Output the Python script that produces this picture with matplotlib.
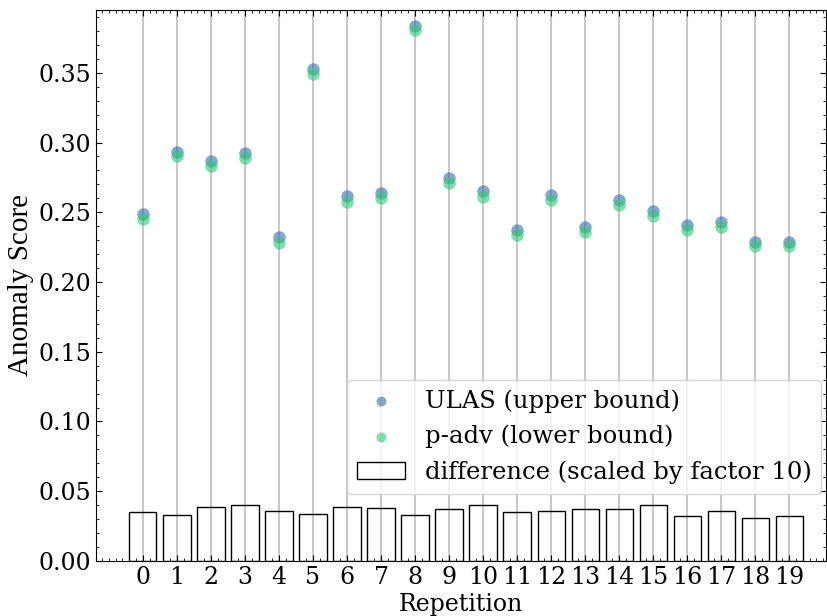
import numpy as np
import matplotlib

matplotlib.use("Agg")
import matplotlib.pyplot as plt
from matplotlib.ticker import AutoMinorLocator

# Anomaly scores per repetition
repetitions = list(range(20))
ulas_upper = [0.2486, 0.2935, 0.2868, 0.2928, 0.2319, 0.3527, 0.2613, 0.2641, 0.3837, 0.2749,
              0.2651, 0.2372, 0.2622, 0.2393, 0.2586, 0.2510, 0.2407, 0.2432, 0.2288, 0.2288]
padv_lower = [0.2451, 0.2902, 0.2829, 0.2888, 0.2283, 0.3493, 0.2574, 0.2603, 0.3804, 0.2712,
              0.2611, 0.2337, 0.2586, 0.2356, 0.2549, 0.2470, 0.2375, 0.2396, 0.2257, 0.2256]
SCALE = 10

plt.rcParams["font.family"] = "DejaVu Serif"
plt.rcParams["font.size"] = 17

x = np.array(repetitions)
upper = np.array(ulas_upper)
lower = np.array(padv_lower)
diff = (upper - lower) * SCALE

fig = plt.figure(figsize=(8.27, 6.16), dpi=100)
ax = fig.add_axes([0.116, 0.0893, 0.8828, 0.8945])

ax.grid(axis="x", color="#c8c8c8", linewidth=1.5, zorder=0)
ax.set_axisbelow(True)

ax.scatter(x, upper, s=80, color="#2f6fb0", alpha=0.6, linewidths=0,
           label="ULAS (upper bound)", zorder=3)
ax.scatter(x, lower, s=80, color="#2ecc71", alpha=0.6, linewidths=0,
           label="p-adv (lower bound)", zorder=3)
ax.bar(x, diff, width=0.8, facecolor="none", edgecolor="black", linewidth=1,
       label=f"difference (scaled by factor {SCALE})", zorder=2)

ax.set_xlim(-1.38, 20.08)
ax.set_ylim(0, 0.395)
ax.set_xticks(x)
ax.set_xticklabels([str(r) for r in repetitions], fontsize=17)
yt = np.arange(0, 0.36, 0.05)
ax.set_yticks(yt)
ax.set_yticklabels([f"{v:.2f}" for v in yt], fontsize=17)
ax.xaxis.set_minor_locator(AutoMinorLocator(5))
ax.yaxis.set_minor_locator(AutoMinorLocator(5))
ax.tick_params(which="both", direction="in", top=True, right=True)
ax.tick_params(which="major", length=4)
ax.tick_params(which="minor", length=2)

ax.set_xlabel("Repetition", fontsize=17, labelpad=3)
ax.set_ylabel("Anomaly Score", fontsize=21, family="Liberation Serif", labelpad=3)

ax.legend(loc="lower right", bbox_to_anchor=(1.0, 0.113), fontsize=17.5,
          framealpha=0.8, handlelength=2.0, markerscale=0.8, borderaxespad=0.2)

fig.savefig("out.png", dpi=100)
